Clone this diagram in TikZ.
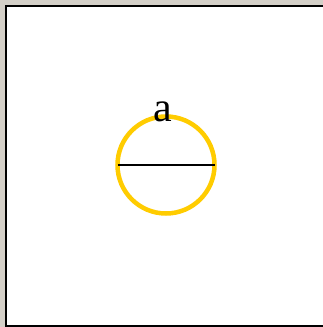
\documentclass[tikz,border=0pt]{standalone}
\usepackage{fontspec}
\setmainfont{Liberation Serif}
\definecolor{wingray}{RGB}{212,208,200}
\definecolor{ringgold}{RGB}{255,204,0}

\begin{document}
\begin{tikzpicture}[x=1pt,y=1pt,
    ring/.style={circle,draw=ringgold,line width=4.5pt,minimum size=97pt,inner sep=0pt,outer sep=0pt}]
  \useasboundingbox (0,0) rectangle (323,327);
  % window frame
  \fill[wingray] (0,0) rectangle (323,327);
  \fill[black] (5,0) rectangle (323,322);
  \fill[white] (7,2) rectangle (323,320);
  % circle with diameter
  \node[ring] (c) at (166,162) {};
  \draw[line width=1.8pt] (c.west) -- (c.east);
  \node[anchor=base,inner sep=0pt,font=\fontsize{42}{42}\selectfont] (lbl) at (163,205.5) {a};
\end{tikzpicture}
\end{document}
